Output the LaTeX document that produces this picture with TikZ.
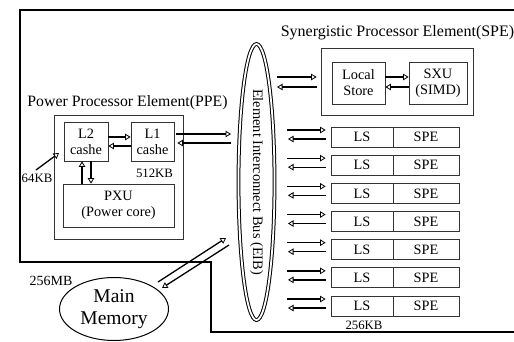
\documentclass[tikz,border=0pt]{standalone}
\usepackage{fontspec}
\setmainfont{Liberation Serif}
\usetikzlibrary{arrows.meta,shapes.geometric,calc}
\begin{document}
\begin{tikzpicture}[x=1pt,y=-1pt,
  box/.style={draw=black!80, line width=0.8pt, inner sep=0pt, align=center, font=\fontsize{14.3}{16}\selectfont},
  arr/.style={line width=1.3pt, -{Triangle[open,length=5.5pt,width=6.5pt,line width=0.8pt]}},
  title/.style={font=\fontsize{16}{18}\selectfont, inner sep=0pt},
  small/.style={font=\fontsize{12.8}{14}\selectfont, inner sep=0pt}]
\useasboundingbox (0,0) rectangle (514,341);
% outer chip border
\draw[line width=2.2pt] (516,10) -- (20,10) -- (20,262) -- (211,262) -- (211,332) -- (516,332);
% EIB
\node[ellipse, draw, double, double distance=1.8pt, line width=1pt, rotate=-90,
      minimum width=276pt, minimum height=36pt, inner sep=0pt,
      font=\fontsize{14.4}{16}\selectfont] (EIB) at (256.5,182) {Element Interconnect Bus (EIB)};
% PPE
\node[title, font=\fontsize{15.8}{18}\selectfont] (ppet) at (127.5,103) {Power Processor Element(PPE)};
\node[box, minimum width=129pt, minimum height=124pt] (PPE) at (118.5,177) {};
\node[box, minimum width=44pt, minimum height=39pt] (L2) at (86,141.5) {L2\\cashe};
\node[box, minimum width=43pt, minimum height=39pt] (L1) at (152.5,141.5) {L1\\cashe};
\node[box, minimum width=111pt, minimum height=43pt] (PXU) at (118.5,205.5) {PXU\\(Power core)};
\node[small] (kb512) at (154.5,173) {512KB};
\node[small] (kb64) at (37,178) {64KB};
\coordinate (a64) at (36,170);
\draw[arr] (a64) -- (59,153);
% L2 <-> L1
\draw[arr] (L2.east |- 0,137) -- (L1.west |- 0,137);
\draw[arr] (L1.west |- 0,146) -- (L2.east |- 0,146);
% L2 <-> PXU
\draw[arr] (PXU.north -| 82,0) -- (L2.south -| 82,0);
\draw[arr] (L2.south -| 91,0) -- (PXU.north -| 91,0);
% L1 <-> EIB
\coordinate (e1) at (231,134);
\coordinate (e2) at (231,143);
\draw[arr] ($(L1.east |- e1)+(2,0)$) -- (e1);
\draw[arr] (e2) -- ($(L1.east |- e2)+(3,0)$);
% SPE detail
\node[title] (spet) at (397.5,33) {Synergistic Processor Element(SPE)};
\node[box, minimum width=152pt, minimum height=67pt] (SPE) at (397,81.5) {};
\node[box, minimum width=53pt, minimum height=42pt] (LST) at (358.5,83) {Local\\Store};
\node[box, minimum width=58pt, minimum height=42pt] (SXU) at (438,83) {SXU\\(SIMD)};
\draw[arr] (LST.east |- 0,77) -- (SXU.west |- 0,77);
\draw[arr] (SXU.west |- 0,87) -- (LST.east |- 0,87);
\coordinate (s1) at (277,77);
\coordinate (s2) at (277,87);
\draw[arr] (s1) -- ($(SPE.west |- s1)+(-4,0)$);
\draw[arr] ($(SPE.west |- s2)+(-4,0)$) -- (s2);
% SPE rows
\foreach \i in {0,...,6}{
  \pgfmathsetmacro{\rowtop}{127+28.17*\i}
  \node[box, minimum width=62pt, minimum height=20pt] (LS\i) at (362,\rowtop+10) {LS};
  \node[box, minimum width=66pt, minimum height=20pt] (SP\i) at (426,\rowtop+10) {SPE};
  \coordinate (r\i a) at (287,\rowtop+3);
  \coordinate (r\i b) at (288,\rowtop+12);
  \draw[arr] (r\i a) -- ($(LS\i.west |- r\i a)+(-5,0)$);
  \draw[arr] ($(LS\i.west |- r\i b)+(-5,0)$) -- (r\i b);
}
\node[small] (kb256) at (364,325) {256KB};
% main memory
\node[font=\fontsize{14}{15}\selectfont, inner sep=0pt] (mb256) at (51,281) {256MB};
\node[ellipse, draw, line width=1pt, minimum width=109pt, minimum height=63pt, inner sep=0pt,
      align=center, font=\fontsize{19.5}{22}\selectfont] (MEM) at (114,309) {Main\\Memory};
\coordinate (m1) at (158,282);
\coordinate (m2) at (226,238);
\coordinate (m3) at (229,245);
\coordinate (m4) at (162,288);
\draw[arr] (m1) -- (m2);
\draw[arr] (m3) -- (m4);
\end{tikzpicture}
\end{document}
